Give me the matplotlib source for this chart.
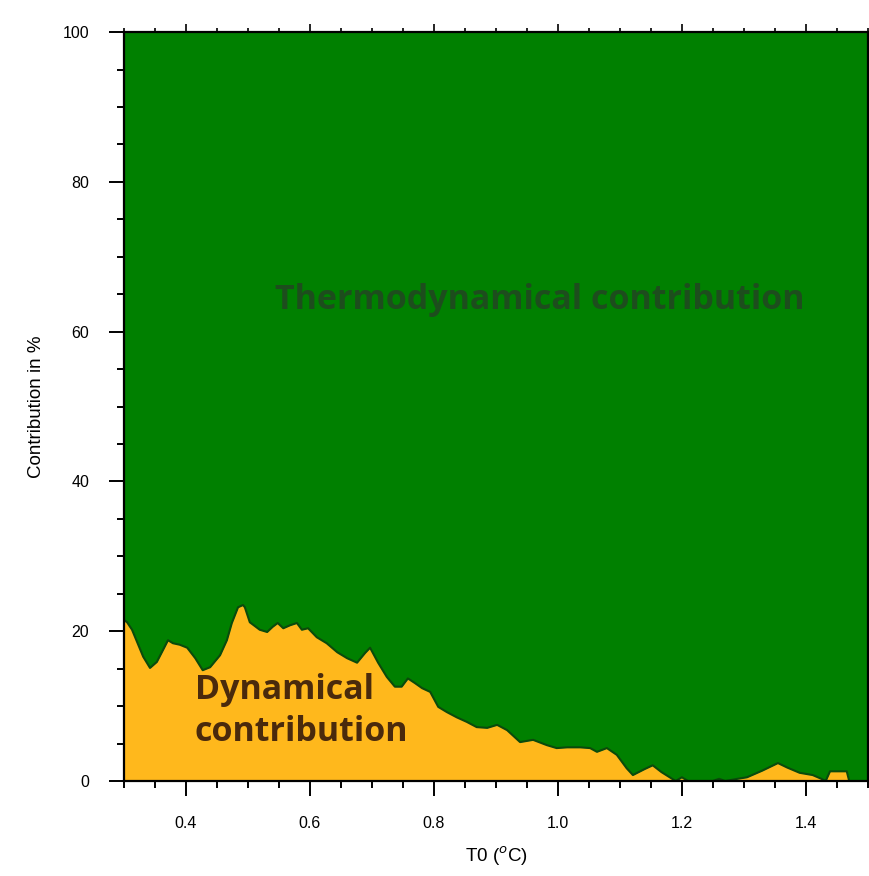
import numpy as np
import matplotlib.pyplot as plt
from matplotlib.ticker import MultipleLocator

# threshold temperature T0 (deg C) and dynamical share of the signal (%)
t0 = [0.300, 0.305, 0.313, 0.323, 0.331, 0.342, 0.353, 0.363, 0.371, 0.379,
      0.390, 0.402, 0.415, 0.427, 0.439, 0.455, 0.466, 0.474, 0.484, 0.492,
      0.495, 0.503, 0.519, 0.531, 0.540, 0.548, 0.557, 0.568, 0.579, 0.587,
      0.597, 0.611, 0.627, 0.644, 0.660, 0.676, 0.689, 0.697, 0.710, 0.724,
      0.737, 0.748, 0.758, 0.769, 0.781, 0.794, 0.807, 0.821, 0.837, 0.853,
      0.869, 0.886, 0.902, 0.918, 0.939, 0.960, 0.982, 0.998, 1.015, 1.036,
      1.052, 1.063, 1.079, 1.095, 1.111, 1.121, 1.140, 1.153, 1.167, 1.190,
      1.200, 1.210, 1.250, 1.260, 1.270, 1.290, 1.305, 1.330, 1.355, 1.370,
      1.390, 1.411, 1.425, 1.432, 1.439, 1.466, 1.470, 1.500]
dynamical = [21.5, 21.2, 20.2, 18.2, 16.6, 15.1, 15.9, 17.5, 18.8, 18.4,
             18.2, 17.8, 16.4, 14.8, 15.2, 16.8, 18.8, 21.1, 23.2, 23.5,
             23.2, 21.2, 20.2, 19.9, 20.6, 21.1, 20.4, 20.8, 21.1, 20.2,
             20.4, 19.2, 18.4, 17.2, 16.4, 15.8, 17.1, 17.8, 15.8, 13.9,
             12.6, 12.6, 13.7, 13.1, 12.4, 11.9, 9.9, 9.2, 8.5, 7.9,
             7.2, 7.1, 7.5, 6.8, 5.2, 5.5, 4.8, 4.4, 4.5, 4.5,
             4.4, 3.9, 4.4, 3.5, 1.7, 0.8, 1.6, 2.1, 1.2, 0.0,
             0.5, 0.0, 0.0, 0.3, 0.0, 0.3, 0.5, 1.4, 2.4, 1.8,
             1.1, 0.8, 0.3, 0.0, 1.3, 1.3, 0.0, 0.0]
x_ticks = [0.4, 0.6, 0.8, 1.0, 1.2, 1.4]
x_ticklabels = ['0.4', '0.6', '0.8', '1.0', '1.2', '1.4']

x = np.array(t0)
dyn = np.array(dynamical)

plt.rcParams['font.family'] = ['Liberation Sans', 'DejaVu Sans']

fig = plt.figure(figsize=(8.7, 8.76), dpi=100)
ax = fig.add_axes([0.1425, 0.1084, 0.855, 0.855])

# stacked shares: dynamical below, thermodynamical up to 100 %
ax.fill_between(x, 0, dyn, color='#FFB81C', linewidth=0)
ax.fill_between(x, dyn, 100, color='#008000', linewidth=0)
ax.plot(x, dyn, color='#0b4a0b', linewidth=1.5)

ax.set_xlim(0.3, 1.5)
ax.set_ylim(0, 100)

ax.set_xticks(x_ticks)
ax.set_xticklabels(x_ticklabels)
ax.xaxis.set_minor_locator(MultipleLocator(0.05))
ax.yaxis.set_major_locator(MultipleLocator(20))
ax.yaxis.set_minor_locator(MultipleLocator(5))

ax.tick_params(which='both', direction='out', labelsize=11.5, width=1.4)
ax.tick_params(which='major', length=11, pad=14)
ax.tick_params(which='minor', length=5)
for s in ax.spines.values():
    s.set_linewidth(1.6)

# shorter mirrored ticks along the top edge
top = ax.secondary_xaxis('top')
top.set_xticks(x_ticks)
top.xaxis.set_minor_locator(MultipleLocator(0.05))
top.tick_params(which='both', direction='out', labeltop=False, width=1.2)
top.tick_params(which='major', length=6)
top.tick_params(which='minor', length=3)

ax.set_xlabel('T0 ($^{o}$C)', fontsize=13.5, labelpad=10)
ax.set_ylabel('Contribution in %', fontsize=13.5, labelpad=13)

ax.text(0.97, 64.2, 'Thermodynamical contribution', fontsize=24.5,
        fontweight='bold', family='Open Sans', color='#1d4d1d',
        ha='center', va='center')
ax.text(0.414, 9.3, 'Dynamical\ncontribution', fontsize=24.5,
        fontweight='bold', family='Open Sans', color='#4a2a0c',
        ha='left', va='center', linespacing=1.3)

fig.savefig('out.png', dpi=100)
